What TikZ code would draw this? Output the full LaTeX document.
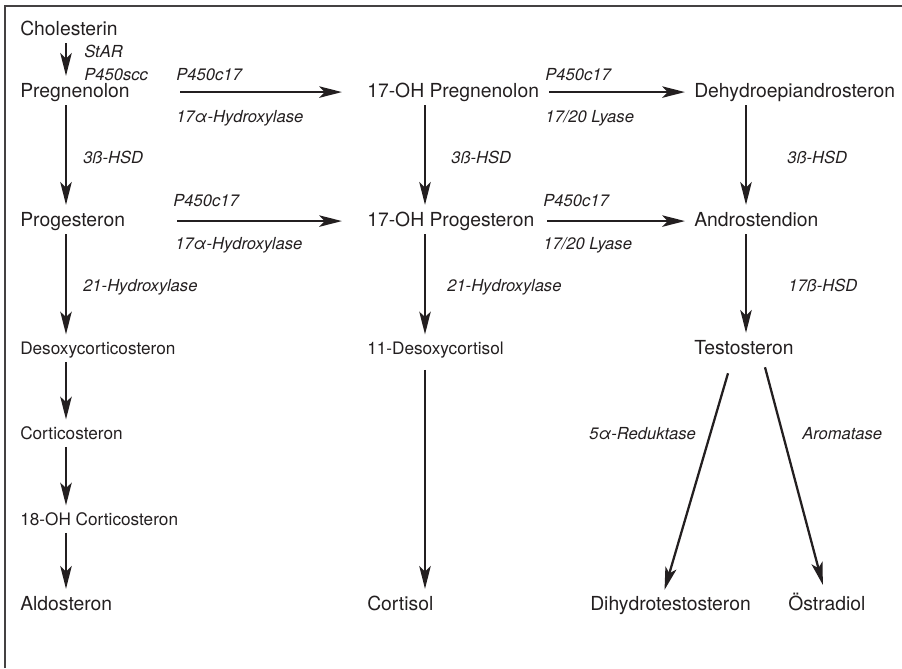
\documentclass[tikz,border=0pt]{standalone}
\usepackage{fontspec}
\setmainfont{TeX Gyre Heros}
\usetikzlibrary{arrows.meta}
\definecolor{ink}{RGB}{35,31,32}

\begin{document}
\begin{tikzpicture}[x=0.75pt,y=-0.75pt,
  hormone/.style={anchor=base west,inner sep=0pt,text=ink,text height=10.4pt,text depth=3pt,
    font=\fontsize{14.5}{17}\selectfont},
  minor/.style={hormone,text height=9.2pt,text depth=2.7pt,font=\fontsize{12.9}{15}\selectfont},
  enzyme/.style={anchor=base west,inner sep=0pt,text=ink,font=\fontsize{12.45}{15}\selectfont\itshape},
  conv/.style={-{Stealth[length=17pt,width=8.5pt,inset=4pt]},line width=2.1pt,draw=ink,
    shorten <=3pt,shorten >=5.25pt},
  across/.style={conv,shorten >=18.75pt},
  diag/.style={conv,line width=1.7pt,shorten <=0pt,shorten >=0pt}
]
  \useasboundingbox (0,0) rectangle (902,668);
  \draw[ink!85,line width=1pt] (5,668) -- (5,6) -- (902,6);

  % columns of the vertical steps
  \coordinate (colA) at (66,0);
  \coordinate (colB) at (425,0);
  \coordinate (colC) at (746,0);

  % hormones
  \node[hormone] (chol) at (20,35) {Cholesterin};
  \node[hormone] (preg) at (20,97) {Pregnenolon};
  \node[hormone] (prog) at (20,226) {Progesteron};
  \node[minor] (doc) at (20,354) {Desoxycorticosteron};
  \node[minor] (cco) at (20,439) {Corticosteron};
  \node[minor] (ohc) at (20,525) {18-OH Corticosteron};
  \node[hormone] (aldo) at (20,610) {Aldosteron};
  \node[hormone] (opreg) at (367,97) {17-OH Pregnenolon};
  \node[hormone] (oprog) at (367,226) {17-OH Progesteron};
  \node[minor] (dcort) at (367,354) {11-Desoxycortisol};
  \node[hormone] (cort) at (367,610) {Cortisol};
  \node[hormone] (dhea) at (694,97) {Dehydroepiandrosteron};
  \node[hormone] (andro) at (694,226) {Androstendion};
  \node[hormone] (testo) at (694,354) {Testosteron};
  \node[hormone] (dht) at (590,610) {Dihydrotestosteron};
  \node[hormone] (oest) at (788,610) {Östradiol};

  % enzymes
  \node[enzyme] (star) at (84,57) {StAR};
  \node[enzyme] (scc) at (84,80) {P450scc};
  \node[enzyme] (hyda) at (176,80) {P450c17};
  \node[enzyme] (hydb) at (176,122) {17α-Hydroxylase};
  \node[enzyme] (lyaa) at (545,80) {P450c17};
  \node[enzyme] (lyab) at (545,122) {17/20 Lyase};
  \node[enzyme] (hsda) at (83,163) {3ß-HSD};
  \node[enzyme] (hsdb) at (451,163) {3ß-HSD};
  \node[enzyme] (hsdc) at (787,163) {3ß-HSD};
  \node[enzyme] (hydc) at (173,206) {P450c17};
  \node[enzyme] (hydd) at (175,249) {17α-Hydroxylase};
  \node[enzyme] (lyac) at (543,206) {P450c17};
  \node[enzyme] (lyad) at (543,249) {17/20 Lyase};
  \node[enzyme] (ohda) at (83,291) {21-Hydroxylase};
  \node[enzyme] (ohdb) at (447,291) {21-Hydroxylase};
  \node[enzyme] (hsdd) at (788,291) {17ß-HSD};
  \node[enzyme] (red) at (589,439) {5α-Reduktase};
  \node[enzyme] (arom) at (802,439) {Aromatase};

  % left column
  \draw[conv] (chol.south -| colA) -- (preg.north -| colA);
  \draw[conv] (preg.south -| colA) -- (prog.north -| colA);
  \draw[conv] (prog.south -| colA) -- (doc.north -| colA);
  \draw[conv] (doc.south -| colA) -- (cco.north -| colA);
  \draw[conv] (cco.south -| colA) -- (ohc.north -| colA);
  \draw[conv] (ohc.south -| colA) -- (aldo.north -| colA);
  % middle column
  \draw[conv] (opreg.south -| colB) -- (oprog.north -| colB);
  \draw[conv] (oprog.south -| colB) -- (dcort.north -| colB);
  \draw[conv,shorten <=9pt] (dcort.south -| colB) -- (cort.north -| colB);
  % right column
  \draw[conv] (dhea.south -| colC) -- (andro.north -| colC);
  \draw[conv] (andro.south -| colC) -- (testo.north -| colC);
  \draw[diag] ([shift={(-16,15)}]testo.south) -- ([shift={(-6,-6)}]dht.north);
  \draw[diag] ([shift={(21,9)}]testo.south) -- ([shift={(-4,-11)}]oest.north);

  % side chains
  \draw[across] (preg.east -| hyda.west) -- (opreg.west);
  \draw[across] (prog.east -| hydc.west) -- (oprog.west);
  \draw[conv,shorten >=6.75pt] (opreg.east -| lyaa.west) -- (dhea.west);
  \draw[conv,shorten >=6.75pt] (oprog.east -| lyac.west) -- (andro.west);
\end{tikzpicture}
\end{document}
